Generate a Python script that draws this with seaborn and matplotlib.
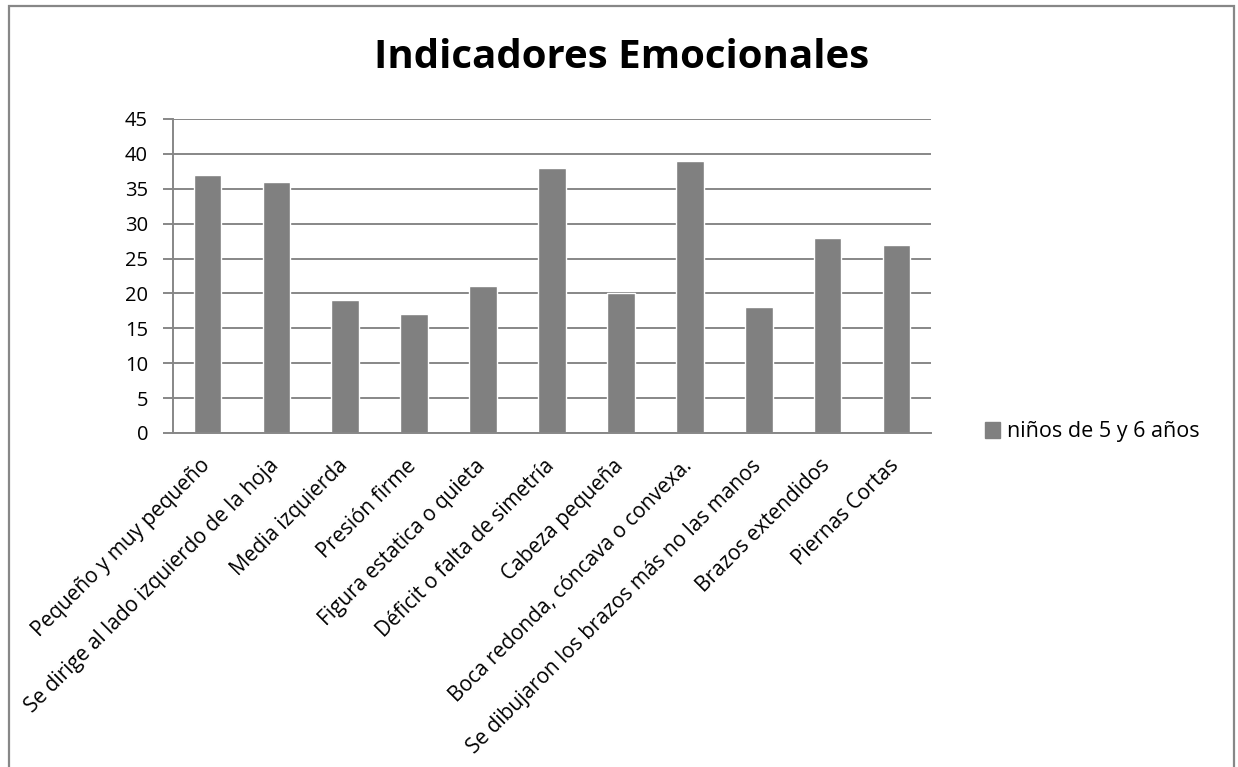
import matplotlib
matplotlib.use("Agg")
from matplotlib import pyplot as plt
from matplotlib.patches import Rectangle
from matplotlib.transforms import ScaledTranslation
import seaborn as sns
import numpy as np

categorias = [
    "Pequeño y muy pequeño",
    "Se dirige al lado izquierdo de la hoja",
    "Media izquierda",
    "Presión firme",
    "Figura estatica o quieta",
    "Déficit o falta de simetría",
    "Cabeza pequeña",
    "Boca redonda, cóncava o convexa.",
    "Se dibujaron los brazos más no las manos",
    "Brazos extendidos",
    "Piernas Cortas",
]
valores = [37, 36, 19, 17, 21, 38, 20, 39, 18, 28, 27]
serie = "niños de 5 y 6 años"
y_ticks = [0, 5, 10, 15, 20, 25, 30, 35, 40, 45]

sns.set_style("white")
plt.rcParams["font.family"] = ["Open Sans", "DejaVu Sans"]
plt.rcParams["text.color"] = "black"
plt.rcParams["xtick.labelcolor"] = "black"
plt.rcParams["ytick.labelcolor"] = "black"

gris = "#808080"
linea = "#878787"

fig = plt.figure(figsize=(12.38, 7.67), dpi=100)
ax = fig.add_axes([173 / 1238, 1 - 433 / 767, (931 - 173) / 1238, (433 - 119) / 767])

sns.barplot(x=categorias, y=valores, color=gris, width=0.4, saturation=1, ax=ax)

ax.set_ylim(0, 45)
ax.set_xlim(-0.5, len(categorias) - 0.5)
ax.set_yticks(y_ticks)
ax.set_yticklabels([str(t) for t in y_ticks], fontsize=14.5)
ax.yaxis.grid(True, color=linea, linewidth=1.4)
ax.set_axisbelow(True)

ax.set_xticks(range(len(categorias)))
ax.set_xticklabels(categorias, rotation=45, ha="right", rotation_mode="anchor", fontsize=15)
ax.set_xticks(np.arange(-0.5, len(categorias)), minor=True)
ax.tick_params(axis="x", which="major", length=0, pad=16, labelcolor="black")
ax.tick_params(axis="x", which="minor", length=5.5, width=1.4, color=linea, direction="out")
ax.tick_params(axis="y", length=7, width=1.4, color=linea, direction="out", left=True, pad=11,
               labelcolor="black")

# correr un poco las etiquetas hacia la izquierda
desplazamiento = ScaledTranslation(-8 / 100, 0, fig.dpi_scale_trans)
for lbl in ax.get_xticklabels():
    lbl.set_transform(lbl.get_transform() + desplazamiento)

for s in ["top", "right"]:
    ax.spines[s].set_visible(False)
for s in ["left", "bottom"]:
    ax.spines[s].set_color(linea)
    ax.spines[s].set_linewidth(1.4)

ax.set_xlabel("")
ax.set_ylabel("")

fig.text(622 / 1238, 1 - 57 / 767, "Indicadores Emocionales", ha="center", va="center",
         fontsize=29, fontweight="bold", color="black")

# borde del gráfico
fig.patches.append(Rectangle((8.5 / 1238, -0.01), (1234 - 8.5) / 1238, 1.01 - 6.5 / 767,
                             transform=fig.transFigure, fill=False,
                             edgecolor=linea, linewidth=1.6))

fig.legend(handles=[Rectangle((0, 0), 1, 1, color=gris)], labels=[serie],
           loc="center left", bbox_to_anchor=(966 / 1238, 1 - 432 / 767),
           frameon=False, fontsize=15.5, handlelength=0.7, handleheight=0.7,
           handletextpad=0.3, labelcolor="black")

fig.savefig("out.png", dpi=100)
